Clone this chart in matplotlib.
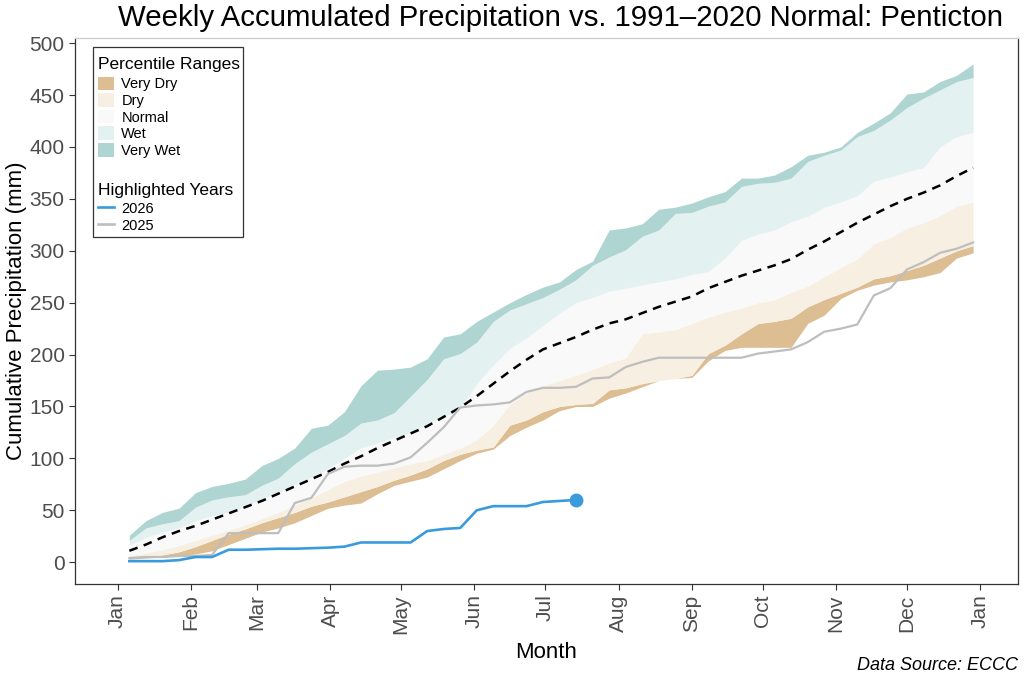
import numpy as np
import matplotlib
matplotlib.use("Agg")
import matplotlib.pyplot as plt
from matplotlib.patches import Patch, Rectangle
from matplotlib.lines import Line2D

plt.rcParams['font.family'] = ['Liberation Sans', 'DejaVu Sans']

# ---- data ----
# week positions (day offset from Jan 1), weekly points
week_day = 5 + 7 * np.arange(52)

vw_top = [26, 40, 48, 52, 67, 73, 76, 80, 93, 100, 110, 129, 132, 145, 170, 185, 186, 188, 196, 217,
          220, 232, 241, 250, 258, 265, 270, 282, 290, 320, 322, 326, 340, 342, 346, 352, 357, 370, 370, 373,
          381, 392, 395, 400, 414, 423, 433, 451, 453, 463, 469, 480]
vw_low = [21, 33, 37, 40, 53, 60, 63, 65, 74, 81, 95, 106, 114, 122, 134, 137, 144, 160, 176, 196,
          201, 212, 232, 243, 249, 255, 263, 272, 286, 294, 301, 314, 320, 336, 337, 343, 347, 362, 365, 366,
          370, 386, 392, 397, 410, 416, 426, 438, 447, 455, 463, 467]
wet_low = [16, 24, 29, 33, 40, 45, 48, 54, 61, 67, 75, 82, 90, 100, 110, 115, 120, 125, 133, 140,
           148, 172, 190, 206, 216, 228, 240, 250, 255, 261, 264, 267, 270, 273, 277, 280, 293, 310, 316, 320,
           328, 333, 342, 347, 353, 367, 371, 376, 380, 400, 410, 414]
median = [11, 17, 24, 30, 35, 41, 47, 53, 59, 66, 73, 80, 87, 95, 102, 110, 117, 124, 131, 140,
          149, 160, 172, 184, 195, 205, 211, 217, 224, 230, 234, 240, 246, 251, 256, 264, 270, 276, 281, 286,
          292, 301, 309, 318, 327, 335, 343, 350, 356, 363, 372, 380]
dry_top = [6, 9, 12, 16, 21, 26, 31, 36, 42, 48, 55, 62, 70, 78, 83, 87, 91, 95, 98, 104,
           110, 118, 132, 152, 163, 170, 175, 180, 186, 192, 197, 220, 222, 224, 230, 236, 241, 245, 250, 253,
           260, 266, 275, 284, 292, 307, 313, 322, 327, 334, 343, 347]
vd_top = [4, 5, 7, 10, 15, 21, 27, 32, 38, 43, 48, 54, 58, 63, 68, 73, 79, 84, 90, 98,
          104, 108, 111, 132, 137, 145, 150, 152, 153, 166, 168, 172, 175, 177, 180, 201, 209, 220, 230, 232,
          235, 246, 253, 259, 265, 273, 276, 281, 286, 293, 300, 305]
vd_low = [3, 4, 5, 6, 8, 11, 17, 23, 29, 33, 38, 45, 52, 55, 57, 66, 74, 78, 82, 90,
          98, 105, 109, 122, 130, 137, 146, 150, 150, 158, 163, 169, 175, 177, 178, 194, 204, 207, 207, 207,
          207, 230, 238, 254, 262, 267, 270, 272, 275, 279, 293, 298]
y2025 = [4, 5, 5, 6, 6, 7, 28, 28, 28, 28, 57, 62, 85, 92, 93, 93, 95, 101, 115, 130,
         149, 151, 152, 154, 164, 168, 168, 169, 177, 178, 188, 193, 197, 197, 197, 197, 197, 197, 201, 203,
         205, 212, 222, 225, 229, 257, 264, 282, 289, 298, 302, 308]
y2026 = [1, 1, 1, 2, 5, 5, 12, 12, 12.5, 13, 13, 13.5, 14, 15, 19, 19, 19, 19, 30, 32,
         33, 50, 54, 54, 54, 58, 59, 60]

month_labels = ['Jan', 'Feb', 'Mar', 'Apr', 'May', 'Jun', 'Jul', 'Aug', 'Sep', 'Oct', 'Nov', 'Dec', 'Jan']
month_start = [0, 31, 59, 90, 120, 151, 181, 212, 243, 273, 304, 334, 365]

band_names = ['Very Dry', 'Dry', 'Normal', 'Wet', 'Very Wet']
band_colors = ['#DDBD92', '#F7EFE1', '#F9F9F9', '#E3F2F1', '#AED5D2']
year_names = ['2026', '2025']
col_2026 = '#3A9BDC'
col_2025 = '#BEBEBE'

# ---- figure ----
fig = plt.figure(figsize=(10.24, 6.82), dpi=100)
ax = fig.add_axes([75/1024, 1-584/682, (1018-75)/1024, (584-38)/682])

bounds = [vd_low, vd_top, dry_top, wet_low, vw_low, vw_top]
for i in range(5):
    ax.fill_between(week_day, bounds[i], bounds[i+1], color=band_colors[i], lw=0, zorder=1)

ax.plot(week_day, median, color='black', lw=1.8, ls=(0, (3.5, 2.6)), zorder=3)
ax.plot(week_day, y2025, color=col_2025, lw=1.6, zorder=4)
n26 = len(y2026)
ax.plot(week_day[:n26], y2026, color=col_2026, lw=1.9, zorder=5)
ax.plot(week_day[n26-1], y2026[-1], 'o', color=col_2026, ms=9, zorder=6)

ax.set_xlim(-18, 381)
ax.set_ylim(-21, 505)
ax.set_xticks(month_start)
ax.set_xticklabels(month_labels, rotation=90)
ax.set_yticks(np.arange(0, 501, 50))
ax.tick_params(axis='both', labelsize=15, labelcolor='#4D4D4D', color='#333333', length=4, width=0.8)

for side in ['left', 'bottom', 'right']:
    ax.spines[side].set_color('#333333')
    ax.spines[side].set_linewidth(0.9)
ax.spines['top'].set_color('#CCCCCC')
ax.spines['top'].set_linewidth(0.9)

ax.set_xlabel('Month', fontsize=16, labelpad=6)
fig.text(17/1024, 1-311/682, 'Cumulative Precipitation (mm)', rotation=90, fontsize=16,
         ha='center', va='center')

fig.text(560/1024, 1-18/682, 'Weekly Accumulated Precipitation vs. 1991\u20132020 Normal: Penticton',
         fontsize=21.2, ha='center', va='center')
fig.text(1018/1024, 1-665/682, 'Data Source: ECCC', fontsize=13, style='italic',
         ha='right', va='center')

# legend frame
ax.add_patch(Rectangle((0.019, 0.6355), 0.159, 0.348, transform=ax.transAxes,
                       facecolor='white', edgecolor='#333333', lw=0.9, zorder=10))
ax.text(0.0244, (584-64)/546, 'Percentile Ranges', transform=ax.transAxes, fontsize=12.5,
        ha='left', va='center', zorder=12)
ax.text(0.0244, (584-191)/546, 'Highlighted Years', transform=ax.transAxes, fontsize=12.5,
        ha='left', va='center', zorder=12)

h1 = [Patch(facecolor=c, edgecolor='none') for c in band_colors]
leg1 = ax.legend(h1, band_names, loc='upper left',
                 bbox_to_anchor=(0.0244, (584-76.5)/546), frameon=False, fontsize=10.5,
                 handlelength=1.1, handleheight=1.05,
                 labelspacing=0.13, handletextpad=0.5, borderaxespad=0.0,
                 borderpad=0.0)
leg1.set_zorder(11)
ax.add_artist(leg1)

h2 = [Line2D([0], [0], color=col_2026, lw=1.9), Line2D([0], [0], color=col_2025, lw=1.9)]
leg2 = ax.legend(h2, year_names, loc='upper left',
                 bbox_to_anchor=(0.0244, (584-201.5)/546), frameon=False, fontsize=10.5,
                 handlelength=1.1, handleheight=1.05, labelspacing=0.13,
                 handletextpad=0.5, borderaxespad=0.0, borderpad=0.0)
leg2.set_zorder(11)

fig.savefig('out.png', dpi=100)
